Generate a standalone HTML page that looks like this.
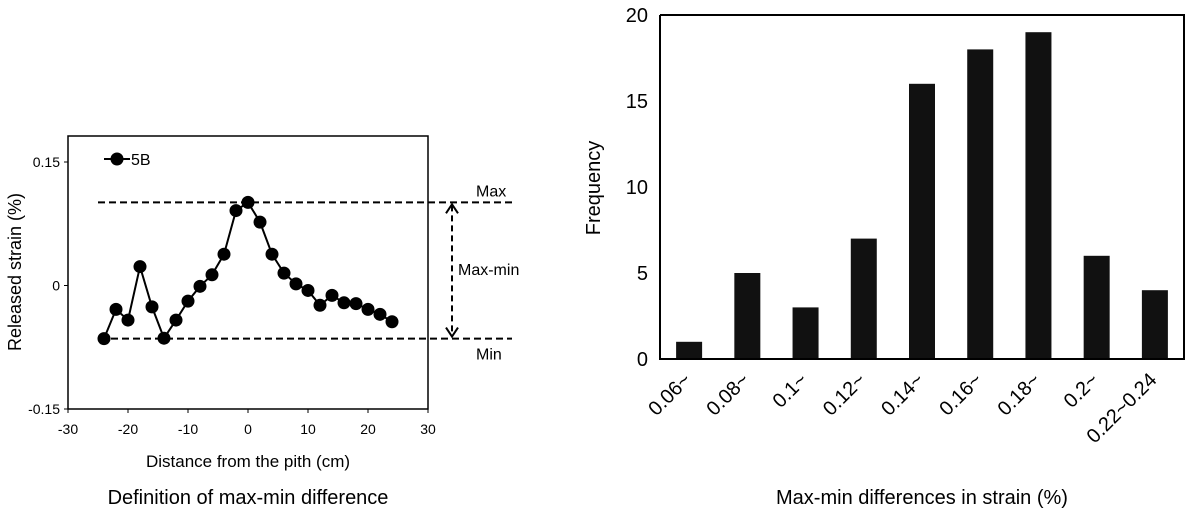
<!DOCTYPE html>
<html><head><meta charset="utf-8"><style>
body{margin:0;background:#fff;}
svg{display:block;font-family:"Liberation Sans",Arial,sans-serif;}
</style></head><body>
<svg width="1186" height="520" viewBox="0 0 1186 520">
<g id="left"></g>
<g id="right"></g>
</svg>
<script>
const distances=[-24,-22,-20,-18,-16,-14,-12,-10,-8,-6,-4,-2,0,2,4,6,8,10,12,14,16,18,20,22,24];
const strains=[-0.0645,-0.029,-0.042,0.023,-0.026,-0.064,-0.042,-0.019,-0.001,0.013,0.038,0.091,0.101,0.077,0.038,0.015,0.002,-0.006,-0.024,-0.012,-0.021,-0.022,-0.029,-0.035,-0.044];
const xTicks=[-30,-20,-10,0,10,20,30];
const yTicks=[-0.15,0,0.15];
const yTickLabels=["-0.15","0","0.15"];
const categories=["0.06~","0.08~","0.1~","0.12~","0.14~","0.16~","0.18~","0.2~","0.22~0.24"];
const frequencies=[1,5,3,7,16,18,19,6,4];
const fTicks=[0,5,10,15,20];

const NS="http://www.w3.org/2000/svg";
function mk(parent,tag,attrs,text){const e=document.createElementNS(NS,tag);for(const k in attrs)e.setAttribute(k,attrs[k]);if(text!==undefined)e.textContent=text;parent.appendChild(e);return e;}

const L=document.getElementById('left');
const lx0=68,lx1=428,ly0=136,ly1=409;
const X=v=>lx0+(v+30)/60*(lx1-lx0);
const Y=v=>285.5-v/0.15*123.5;
let e=mk(L,'rect',{x:lx0,y:ly0,width:lx1-lx0,height:ly1-ly0,fill:'none',stroke:'#000','stroke-width':1.5});

xTicks.forEach(t=>{
 let tk=mk(L,'line',{x1:X(t),x2:X(t),y1:ly1,y2:ly1+4,stroke:'#000'});
 
 let tl=mk(L,'text',{x:X(t),y:ly1+25,'font-size':14,'text-anchor':'middle'},String(t));
 
});
yTicks.forEach((t,i)=>{
 let tk=mk(L,'line',{x1:lx0-4,x2:lx0,y1:Y(t),y2:Y(t),stroke:'#000'});
 
 let tl=mk(L,'text',{x:lx0-8,y:Y(t)+5,'font-size':14,'text-anchor':'end'},yTickLabels[i]);
 
});
const maxV=Math.max(...strains),minV=Math.min(...strains);
e=mk(L,'line',{x1:98,x2:512,y1:Y(maxV),y2:Y(maxV),stroke:'#000','stroke-width':2,'stroke-dasharray':'7,4'});

e=mk(L,'line',{x1:100,x2:512,y1:Y(minV),y2:Y(minV),stroke:'#000','stroke-width':2,'stroke-dasharray':'7,4'});

e=mk(L,'line',{x1:452,x2:452,y1:Y(maxV)+3,y2:Y(minV)-3,stroke:'#000','stroke-width':2,'stroke-dasharray':'6,4'});

e=mk(L,'polyline',{points:`446,${Y(maxV)+11} 452,${Y(maxV)+2} 458,${Y(maxV)+11}`,fill:'none',stroke:'#000','stroke-width':2});

e=mk(L,'polyline',{points:`446,${Y(minV)-11} 452,${Y(minV)-2} 458,${Y(minV)-11}`,fill:'none',stroke:'#000','stroke-width':2});

e=mk(L,'text',{x:476,y:Y(maxV)-6,'font-size':16},'Max');

e=mk(L,'text',{x:476,y:Y(minV)+21,'font-size':16},'Min');

e=mk(L,'text',{x:458,y:275,'font-size':16},'Max-min');

e=mk(L,'polyline',{points:distances.map((d,i)=>X(d)+','+Y(strains[i])).join(' '),fill:'none',stroke:'#000','stroke-width':2});

distances.forEach((d,i)=>{
 let c=mk(L,'circle',{cx:X(d),cy:Y(strains[i]),r:6.5,fill:'#000'});
 
});
e=mk(L,'line',{x1:104,x2:130,y1:159,y2:159,stroke:'#000','stroke-width':2});

e=mk(L,'circle',{cx:117,cy:159,r:6.5,fill:'#000'});

e=mk(L,'text',{x:131,y:165,'font-size':16},'5B');

e=mk(L,'text',{x:0,y:0,'font-size':18,'text-anchor':'middle',transform:'translate(21,272) rotate(-90)'},'Released strain (%)');

e=mk(L,'text',{x:248,y:467,'font-size':17,'text-anchor':'middle'},'Distance from the pith (cm)');

e=mk(L,'text',{x:248,y:504,'font-size':20,'text-anchor':'middle'},'Definition of max-min difference');


const R=document.getElementById('right');
const rx0=660,rx1=1184,ry0=15,ry1=359;
const FY=v=>ry1-v/20*(ry1-ry0);
const bw=(rx1-rx0)/categories.length;
frequencies.forEach((f,i)=>{
 let b=mk(R,'rect',{x:rx0+bw*i+bw/2-13,y:FY(f),width:26,height:ry1-FY(f),fill:'#111'});
 
 let cx=rx0+bw*i+bw/2+3,cy=ry1+22;
 let t=mk(R,'text',{x:0,y:0,'font-size':20,'text-anchor':'end',transform:`translate(${cx},${cy}) rotate(-45)`},categories[i]);
 
});
e=mk(R,'polyline',{points:`${rx0},${ry0} ${rx1},${ry0} ${rx1},${ry1} ${rx0},${ry1} ${rx0},${ry0}`,fill:'none',stroke:'#000','stroke-width':2});

fTicks.forEach(t=>{
 let tl=mk(R,'text',{x:rx0-12,y:FY(t)+7,'font-size':20,'text-anchor':'end'},String(t));
 
});
e=mk(R,'text',{x:0,y:0,'font-size':20,'text-anchor':'middle',transform:'translate(600,188) rotate(-90)'},'Frequency');

e=mk(R,'text',{x:922,y:504,'font-size':20,'text-anchor':'middle'},'Max-min differences in strain (%)');

</script>
</body></html>
